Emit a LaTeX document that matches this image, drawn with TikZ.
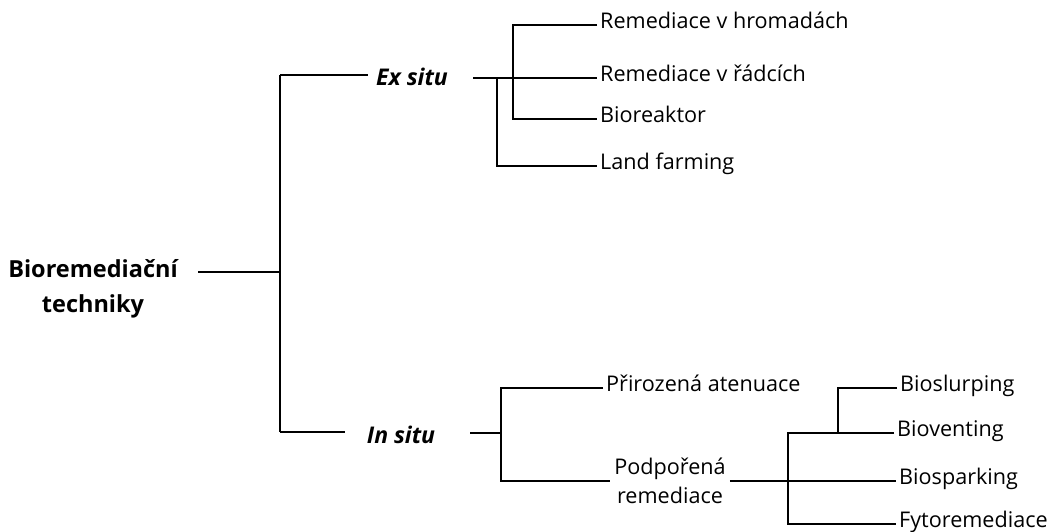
\documentclass[tikz,border=0pt]{standalone}
\usepackage{fontspec}
\setmainfont{Open Sans}
\usetikzlibrary{positioning}

\tikzset{
  link/.style={line width=1.8pt},
  leaf/.style={anchor=west, inner xsep=3pt, inner ysep=0pt, text height=0.72em, text depth=0pt, font=\fontsize{21.6}{26}\selectfont},
  branch/.style={inner sep=0pt, font=\fontsize{23}{28}\selectfont\bfseries\itshape},
  rootbox/.style={inner sep=0pt, align=center, font=\fontsize{23.5}{35}\selectfont\bfseries},
  midbox/.style={inner xsep=4pt, inner ysep=0pt, align=center, font=\fontsize{21.6}{29}\selectfont}
}

\begin{document}
\begin{tikzpicture}[x=1pt,y=-1pt]
  \useasboundingbox (0,0) rectangle (1053,532);

  % Root and trunk
  \node[rootbox] (root) at (93,289) {Bioremediační\\techniky};
  \coordinate (rootout) at (198,272);
  \coordinate (ttop) at (280,75);
  \coordinate (tmid) at (280,272);
  \coordinate (tbot) at (280,432);
  \draw[link] (rootout) -- (tmid);
  \draw[link] (ttop) -- (tbot);

  % Ex situ branch
  \node[branch] (ex) at (412,77) {Ex situ};
  \coordinate (exin) at (368,75);
  \coordinate (exout) at (473,78);
  \draw[link] (ttop) -- (exin);
  \node[leaf] (hrom) at (597,25) {Remediace v hromadách};
  \node[leaf] (radc) at (597,78) {Remediace v řádcích};
  \node[leaf] (biore) at (597,119) {Bioreaktor};
  \node[leaf] (land) at (597,166) {Land farming};
  \draw[link] (exout) -- (radc.west);
  \coordinate (exa) at (497,78);
  \coordinate (exb) at (513,78);
  \draw[link] (exa) |- (land.west);
  \draw[link] (hrom.west) -| (exb) |- (biore.west);

  % In situ branch
  \node[branch] (in) at (401,435) {In situ};
  \coordinate (inin) at (345,432);
  \coordinate (inout) at (470,433);
  \coordinate (ina) at (501,433);
  \draw[link] (tbot) -- (inin);
  \draw[link] (inout) -- (ina);
  \node[leaf] (atten) at (603,388) {Přirozená atenuace};
  \node[midbox] (podp) at (670,481) {Podpořená\\remediace};
  \draw[link] (atten.west) -| (ina) |- (podp.west);

  % Podporena remediace
  \node[leaf] (slurp) at (897,388) {Bioslurping};
  \node[leaf] (vent) at (894,433) {Bioventing};
  \node[leaf] (spark) at (896,481) {Biosparking};
  \node[leaf] (fyto) at (896,524) {Fytoremediace};
  \draw[link] (podp.east) -- (spark.west);
  \coordinate (pa) at (788,481);
  \coordinate (pb) at (838,433);
  \draw[link] (vent.west) -| (pa) |- (fyto.west);
  \draw[link] (slurp.west) -| (pb);
\end{tikzpicture}
\end{document}
